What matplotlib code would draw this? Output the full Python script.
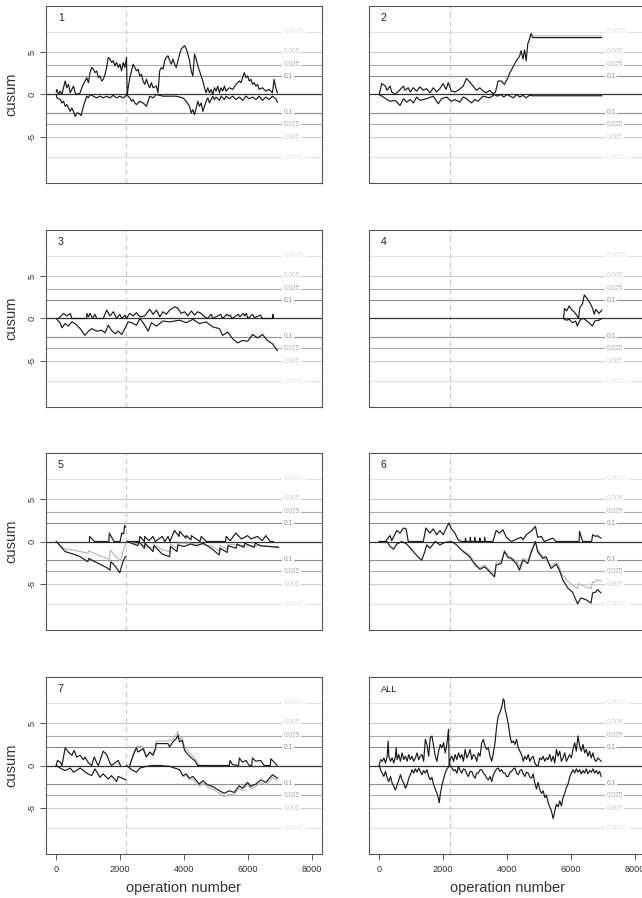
import matplotlib.pyplot as plt

plt.rcParams['font.family'] = ['Liberation Sans', 'DejaVu Sans']

# cusum traces, as (operation number, cusum) pairs
p1_up = [(0, 0.3), (21, 0.6), (73, 0), (125, 0.4), (177, 0), (229, 0.8), (280, 1.6), (332, 0.8),
         (384, 1.2), (436, 0.2), (488, 0.6), (540, 1.0), (592, 0.2), (644, 0), (748, 0.2),
         (800, 0.8), (851, 1.2), (903, 1.6), (955, 2.0), (1007, 1.4), (1059, 2.6), (1111, 3.2),
         (1163, 3.0), (1214, 2.6), (1266, 2.8), (1318, 2.0), (1370, 2.2), (1422, 1.6), (1474, 1.8),
         (1526, 2.4), (1578, 3.2), (1630, 4.4), (1682, 4.2), (1733, 3.8), (1785, 4.0), (1837, 3.4),
         (1889, 3.8), (1941, 3.2), (1993, 3.6), (2045, 2.8), (2097, 3.8), (2149, 3.2), (2200, 4.4),
         (2221, 0), (2253, 0.8), (2305, 2.0), (2357, 2.8), (2408, 3.6), (2460, 3.2), (2512, 2.8),
         (2564, 3.0), (2616, 2.2), (2668, 2.4), (2720, 1.6), (2772, 1.2), (2824, 1.8), (2876, 1.2),
         (2928, 0.8), (2980, 1.4), (3031, 0.8), (3135, 1.0), (3187, 0.2), (3239, 2.8), (3291, 3.2),
         (3343, 3.0), (3395, 4.0), (3447, 4.4), (3499, 4.6), (3551, 4.0), (3603, 3.6), (3654, 4.2),
         (3706, 3.6), (3758, 3.2), (3810, 4.0), (3862, 4.8), (3914, 5.4), (3966, 5.6), (4018, 5.8),
         (4070, 5.4), (4122, 4.8), (4174, 4.0), (4225, 2.8), (4277, 2.2), (4329, 4.8), (4381, 4.2),
         (4433, 3.4), (4485, 2.8), (4537, 2.2), (4589, 1.6), (4641, 0.8), (4693, 0.2), (4745, 0.8),
         (4797, 0.2), (4849, 0.6), (4900, 0), (4952, 0.8), (5004, 0.4), (5056, 1.0), (5108, 0.2),
         (5160, 0.8), (5212, 0.4), (5264, 1.0), (5316, 0.4), (5420, 0.8), (5524, 0.6), (5627, 1.2),
         (5731, 1.6), (5783, 1.4), (5835, 2.0), (5887, 2.6), (5939, 2.0), (5991, 2.2), (6042, 1.6),
         (6094, 1.8), (6146, 1.2), (6198, 1.4), (6250, 1.0), (6302, 1.2), (6354, 0.6), (6457, 0.8),
         (6561, 0.4), (6665, 0.6), (6768, 0.2), (6820, 1.8), (6872, 0.8), (6924, 0.2)]
p1_lo = [(0, 0), (21, -0.4), (125, -0.6), (177, -1.0), (229, -0.8), (280, -1.4), (332, -1.2),
         (384, -1.6), (436, -2.0), (488, -1.6), (540, -2.0), (592, -2.6), (644, -2.2), (700, -2.2),
         (780, -2.5), (850, -1.4), (903, -0.8), (955, -0.2), (1007, -0.4), (1059, 0), (1163, -0.2),
         (1266, -0.4), (1370, -0.2), (1474, -0.4), (1578, -0.2), (1682, -0.4), (1785, -0.1),
         (1889, -0.4), (1993, -0.2), (2097, -0.4), (2200, -0.1), (2253, -0.2), (2305, -0.4),
         (2357, -0.8), (2408, -0.6), (2460, -1.0), (2512, -1.2), (2616, -0.8), (2720, -1.0),
         (2824, -1.4), (2876, -0.8), (2928, -0.2), (3031, -0.4), (3135, 0), (3343, -0.2),
         (3758, -0.2), (3966, -0.4), (4070, -0.8), (4174, -1.4), (4225, -2.2), (4277, -1.8),
         (4329, -2.4), (4381, -1.6), (4433, -0.8), (4485, -1.4), (4537, -1.0), (4589, -2.0),
         (4641, -1.4), (4693, -0.8), (4745, -0.4), (4797, -1.0), (4900, -0.2), (4952, -0.6),
         (5004, -0.3), (5108, -0.7), (5160, -0.2), (5264, -0.6), (5316, -0.2), (5420, -0.5),
         (5524, -0.2), (5627, -0.6), (5731, -0.3), (5835, -0.7), (5939, -0.2), (6042, -0.5),
         (6146, -0.3), (6250, -0.6), (6354, -0.2), (6457, -0.7), (6561, -0.3), (6665, -0.6),
         (6768, -0.2), (6872, -0.5), (6924, -0.9)]

p2_up = [(0, 0), (80, 1.3), (190, 1.0), (240, 0.5), (340, 1.0), (390, 0.3), (500, 0), (760, 1.0),
         (810, 0.5), (910, 0.8), (970, 0.3), (1070, 0.8), (1170, 0.4), (1280, 0.9), (1380, 0.5),
         (1480, 0.7), (1590, 0.2), (1690, 0.8), (1800, 0.3), (1900, 0.7), (2000, 1.3), (2090, 0.6),
         (2160, 1.4), (2260, 0.4), (2370, 0.3), (2470, 0.5), (2630, 1.0), (2730, 1.9), (2830, 1.5),
         (2940, 1.0), (3040, 0.5), (3150, 0.8), (3250, 0.4), (3350, 0.2), (3460, 0.5), (3560, 0.1),
         (3640, 0.3), (3720, 1.6), (3820, 1.6), (3920, 1.2), (4030, 2.0), (4080, 2.5), (4180, 3.2),
         (4290, 4.0), (4390, 4.5), (4440, 5.2), (4500, 4.2), (4550, 5.3), (4600, 4.0), (4650, 6.0),
         (4700, 6.5), (4750, 7.2), (4810, 6.75), (6965, 6.75)]
p2_up_g = [(4700, 6.6), (4750, 7.3), (4810, 6.95), (6965, 6.95)]
p2_lo = [(0, 0), (130, -0.3), (240, -0.6), (340, -0.8), (500, -0.7), (650, -1.3), (760, -0.5),
         (860, -0.9), (970, -0.6), (1070, -1.0), (1170, -0.3), (1280, -0.7), (1480, -0.5),
         (1690, -0.2), (1850, -1.1), (1950, -0.5), (2110, -0.3), (2260, -0.8), (2370, -0.6),
         (2520, -0.9), (2630, -0.3), (2730, -0.5), (2890, -1.0), (2990, -0.6), (3090, -0.8),
         (3250, -0.2), (3460, -0.4), (3610, 0), (3700, -0.2), (3800, 0), (3900, -0.3), (4000, 0),
         (4100, -0.2), (4200, -0.4), (4300, 0), (4400, -0.3), (4500, -0.1), (4600, -0.4),
         (4700, -0.1), (4800, -0.15), (6965, -0.15)]

p3_up = [(70, 0), (230, 0.6), (330, 0.3), (440, 0.6), (490, 0), (950, 0), (960, 0.6), (1010, 0.2),
         (1060, 0.6), (1140, 0), (1210, 0.5), (1270, 0), (1470, 0), (1580, 1.0), (1680, 0.3),
         (1790, 0.8), (1890, 0), (1990, 0.5), (2050, 0), (2150, 0.4), (2200, 0), (2300, 0.6),
         (2410, 0.3), (2510, 0.7), (2620, 0.2), (2770, 0.3), (2930, 1.1), (3030, 0.5), (3140, 1.0),
         (3240, 0.2), (3340, 0.8), (3450, 0.5), (3550, 1.0), (3710, 1.4), (3810, 1.2), (3910, 0.6),
         (4020, 0.8), (4120, 0.3), (4230, 0.9), (4330, 0.4), (4430, 0.8), (4540, 0.6), (4640, 0.2),
         (4740, 0), (4850, 0.5), (4900, 0), (5150, 0.5), (5200, 0), (5350, 0.5), (5400, 0.3),
         (5450, 0.4), (5500, 0), (5700, 0.5), (5750, 0.2), (5850, 0.6), (5900, 0.3), (5950, 0.6),
         (6000, 0), (6150, 0.5), (6200, 0.1), (6400, 0.4), (6450, 0), (6770, 0), (6780, 0.5),
         (6800, 0)]
p3_lo = [(0, 0), (120, -0.5), (180, -1.1), (280, -0.6), (380, -0.9), (490, -0.4), (590, -0.6),
         (750, -1.2), (900, -2.0), (1010, -1.5), (1110, -1.2), (1270, -1.5), (1420, -1.4),
         (1530, -1.7), (1630, -0.8), (1730, -1.4), (1840, -1.8), (1940, -1.5), (2050, -1.9),
         (2150, -1.2), (2250, -0.4), (2360, -0.5), (2510, -0.8), (2620, 0), (2720, -0.5),
         (2880, -1.5), (2980, -0.5), (3140, -0.9), (3340, -0.3), (3550, -0.4), (3860, -0.2),
         (4070, -0.5), (4280, -0.1), (4480, -0.6), (4690, -0.4), (4900, -1.0), (5110, -1.2),
         (5210, -2.0), (5370, -1.6), (5520, -2.4), (5680, -2.9), (5830, -2.6), (5990, -2.7),
         (6150, -1.9), (6300, -2.3), (6460, -1.9), (6610, -2.6), (6770, -3.0), (6920, -3.8)]

p4_up = [(5770, 0), (5800, 1.2), (5870, 0.9), (5950, 1.5), (6030, 1.0), (6100, 0.8), (6180, 0.4),
         (6240, 0), (6280, 1.3), (6360, 1.7), (6420, 2.8), (6520, 2.3), (6590, 1.9), (6680, 1.2),
         (6730, 0.5), (6780, 1.1), (6880, 0.6), (6965, 1.0)]
p4_lo = [(5770, 0), (5850, -0.2), (5950, -0.1), (6050, -0.5), (6150, -0.3), (6200, -0.9),
         (6300, -0.1), (6400, 0), (6500, -0.3), (6600, -0.6), (6670, -0.9), (6750, -0.3),
         (6880, -0.2), (6965, 0)]

p5_up = [(1040, 0), (1045, 0.6), (1200, 0), (1650, 0), (1660, 1.0), (1810, 0), (2000, 0),
         (2050, 1.0), (2110, 0.9), (2140, 1.9), (2180, 1.7)]
p5_up2 = [(2220, 0), (2600, 0), (2620, 0.6), (2760, 0), (2770, 0.6), (2900, 0.1), (3030, 0.6),
          (3100, 0), (3320, 0.6), (3400, 0), (3500, 0.6), (3560, 0), (3700, 1.3), (3850, 0.6),
          (3860, 1.2), (4060, 0.4), (4070, 0.7), (4220, 0.2), (4230, 0.7), (4500, 0), (4540, 0.6),
          (4700, 0), (5300, 0), (5320, 0.6), (5450, 0.1), (5620, 1.0), (5800, 0.3), (5990, 0.7),
          (6100, 0.3), (6300, 0.6), (6450, 0.1), (6560, 0.7), (6700, 0), (6800, 0)]
p5_lo = [(0, 0), (120, -0.5), (280, -1.2), (540, -1.5), (750, -1.8), (990, -2.4), (1020, -2.0),
         (1160, -2.3), (1370, -2.7), (1580, -3.1), (1680, -3.4), (1710, -2.4), (1840, -2.9),
         (1990, -3.7), (2080, -2.5), (2160, -1.8), (2180, -1.8)]
p5_lo2 = [(2220, 0), (2560, -0.5), (2580, 0), (2760, -0.8), (2780, -0.2), (3030, -1.2),
          (3060, -0.5), (3320, -1.5), (3550, -1.8), (3580, -0.6), (3780, -1.2), (3810, -0.4),
          (4000, -0.6), (4200, -0.3), (4400, -0.5), (4600, -0.2), (4850, -0.8), (5100, -1.6),
          (5130, -0.8), (5350, -1.3), (5380, -0.5), (5630, -0.8), (5660, -0.3), (5870, -0.7),
          (5900, -0.2), (6200, -0.7), (6230, -0.2), (6400, -0.5), (6960, -0.7)]
p5_lo_g = [(0, 0), (120, -0.5), (280, -0.9), (540, -1.0), (990, -1.4), (1020, -1.1), (1370, -1.7),
           (1660, -2.1), (1700, -1.0), (1840, -1.7), (2010, -2.3), (2120, -0.8), (2180, -0.2)]
p5_lo2_g = [(2220, 0), (2560, -0.3), (2580, 0), (2760, -0.5), (3030, -0.8), (3060, -0.3),
            (3320, -1.0), (3550, -1.2), (3580, -0.3), (3780, -0.8), (3810, -0.2), (4200, -0.2),
            (4850, -0.5), (5100, -1.1), (5130, -0.5), (5350, -0.9), (5380, -0.3), (5870, -0.5),
            (6200, -0.5), (6960, -0.6)]

p6_up = [(0, 0), (190, 0), (340, 0.7), (390, 0.1), (550, 1.3), (650, 1.0), (760, 1.6), (840, 1.5),
         (910, 0), (1380, 0), (1460, 1.6), (1590, 1.0), (1690, 1.5), (1800, 0.8), (1900, 1.3),
         (2000, 0.8), (2180, 2.2), (2260, 1.5), (2370, 1.0), (2470, 0.2), (2570, 0), (2690, 0),
         (2700, 0.4), (2720, 0), (2840, 0), (2850, 0.5), (2870, 0), (2980, 0), (2990, 0.5),
         (3010, 0), (3140, 0), (3150, 0.4), (3170, 0), (3290, 0), (3300, 0.5), (3320, 0),
         (3560, 0), (3660, 1.3), (3770, 1.0), (3870, 1.4), (3980, 0.5), (4130, 0), (4440, 0.5),
         (4500, 0.2), (4600, 0.8), (4750, 1.2), (4890, 1.8), (4960, 0.5), (5070, 0.6), (5170, 0),
         (5430, 0.4), (5540, 0), (6260, 0), (6270, 1.2), (6370, 0), (6650, 0), (6680, 0.8),
         (6780, 0.6), (6830, 0.7), (6940, 0.4)]
p6_lo = [(0, 0), (240, 0), (340, -0.6), (450, -0.9), (550, -0.3), (710, 0), (860, -0.3),
         (1070, -1.2), (1230, -1.9), (1330, -2.2), (1400, -1.5), (1490, -0.4), (1590, -0.8),
         (1750, 0), (1900, -0.4), (2060, -0.1), (2260, 0), (2420, -0.4), (2630, -1.2), (2830, -1.8),
         (2990, -2.7), (3150, -3.3), (3300, -3.0), (3460, -3.6), (3610, -4.2), (3660, -2.8),
         (3820, -2.6), (3920, -1.2), (4030, -1.9), (4130, -2.0), (4290, -2.6), (4390, -3.4),
         (4500, -2.2), (4650, -2.6), (4750, -1.4), (4890, 0), (4960, -1.2), (5120, -2.0),
         (5220, -1.8), (5380, -3.2), (5540, -2.7), (5640, -3.4), (5740, -4.5), (5900, -5.5),
         (6050, -6.0), (6210, -7.4), (6310, -6.7), (6470, -6.9), (6630, -7.3), (6680, -6.1),
         (6780, -6.0), (6830, -5.7), (6940, -6.1)]
p6_lo_g = [(2630, -1.1), (2830, -1.6), (2990, -2.5), (3150, -3.1), (3300, -2.8), (3460, -3.4),
           (3610, -3.9), (3660, -2.5), (3820, -2.4), (3920, -1.0), (4030, -1.7), (4290, -2.3),
           (4390, -3.0), (4500, -2.0), (4650, -2.3), (4750, -1.1), (4890, 0), (4960, -1.0),
           (5120, -1.8), (5380, -2.9), (5540, -2.5), (5640, -3.1), (5740, -4.0), (5900, -4.7),
           (6050, -5.2), (6220, -5.6), (6230, -5.0), (6470, -5.4), (6630, -5.6), (6680, -4.8),
           (6780, -4.8), (6830, -4.5), (6940, -4.7)]

p7_up = [(0, 0), (40, 0.6), (120, 0.4), (180, 0), (280, 2.1), (380, 1.6), (490, 1.2), (560, 1.8),
         (640, 1.0), (750, 1.2), (850, 0.7), (900, 1.0), (1010, 0.3), (1110, 0), (1190, 1.0),
         (1270, 0.3), (1320, 0), (1470, 1.7), (1580, 1.3), (1680, 0.3), (1730, 0), (1940, 0.6),
         (2010, 0)]
p7_up2 = [(2300, 0), (2410, 1.2), (2510, 2.1), (2560, 1.6), (2720, 2.0), (2820, 1.0), (2930, 1.6),
          (3030, 1.2), (3110, 2.0), (3130, 2.6), (3500, 2.6), (3550, 2.2), (3650, 2.8), (3760, 3.2),
          (3810, 3.6), (3860, 2.8), (3940, 3.0), (4020, 1.8), (4120, 1.3), (4230, 0.9), (4330, 0.6),
          (4430, 0), (5420, 0), (5440, 0.6), (5520, 0.1), (5710, 0), (5730, 0.9), (5830, 0.4),
          (5940, 0.6), (6040, 0), (6120, 0), (6140, 0.9), (6250, 0.5), (6400, 0.6), (6510, 0),
          (6700, 0), (6720, 0.8), (6820, 0.4), (6920, 0)]
p7_up2_g = [(2300, 0), (2410, 1.4), (2510, 2.3), (2720, 2.2), (2820, 1.2), (3030, 1.5),
            (3110, 2.2), (3130, 2.9), (3500, 2.9), (3650, 3.1), (3810, 4.0), (3860, 3.2),
            (3940, 3.3), (4020, 2.2), (4120, 1.7), (4230, 1.3), (4330, 0.9), (4430, 0.3), (4500, 0)]
p7_lo = [(0, 0), (120, -0.3), (280, -0.6), (440, -0.3), (540, -0.8), (750, -0.3), (950, -0.9),
         (1110, -1.2), (1210, -0.4), (1370, -1.4), (1470, -1.0), (1630, -1.6), (1730, -1.2),
         (1890, -1.9), (1940, -1.3), (2180, -1.7)]
p7_lo2 = [(2200, 0), (2360, -0.5), (2510, -0.8), (2620, -0.3), (2820, -0.1), (3030, 0), (3240, 0),
          (3550, -0.1), (3860, -0.5), (3970, -1.2), (4070, -1.0), (4170, -1.5), (4280, -1.3),
          (4480, -2.2), (4590, -1.8), (4740, -2.3), (4900, -2.5), (5110, -3.0), (5260, -3.3),
          (5420, -3.0), (5570, -3.2), (5730, -2.4), (5830, -2.7), (5990, -2.0), (6090, -2.5),
          (6250, -2.2), (6400, -1.7), (6560, -2.0), (6770, -1.1), (6920, -1.5)]
p7_lo2_g = [(3860, -0.5), (3970, -1.3), (4070, -1.2), (4170, -1.7), (4280, -1.6), (4480, -2.5),
            (4590, -2.1), (4740, -2.6), (4900, -2.8), (5110, -3.3), (5260, -3.7), (5420, -3.4),
            (5570, -3.5), (5730, -2.7), (5830, -3.0), (5990, -2.3), (6090, -2.8), (6250, -2.5),
            (6400, -2.0), (6560, -2.3), (6770, -1.4), (6920, -1.8)]

all_up = [(0, 0), (42, 0.7), (93, 0.5), (145, 0.9), (197, 0.3), (249, 1.1), (280, 2.9), (301, 1.1),
          (353, 0.5), (405, 0.9), (457, 0.3), (509, 1.1), (530, 2.1), (561, 0.7), (613, 1.3),
          (665, 0.5), (716, 1.5), (768, 0.7), (820, 1.1), (872, 0.5), (924, 1.3), (976, 0.7),
          (1028, 1.1), (1080, 0.5), (1132, 0.9), (1184, 1.5), (1236, 0.7), (1288, 1.1), (1339, 1.3),
          (1391, 0.5), (1443, 3.1), (1495, 2.5), (1547, 1.1), (1599, 3.3), (1651, 3.5), (1703, 2.3),
          (1755, 1.1), (1807, 0.5), (1859, 1.7), (1911, 2.5), (1962, 2.1), (2014, 2.7), (2066, 1.5),
          (2118, 2.5), (2170, 4.3), (2190, 0), (2222, 0.7), (2274, 1.1), (2326, 0.5), (2378, 1.3),
          (2430, 0.7), (2482, 1.5), (2534, 0.9), (2585, 1.3), (2637, 0.5), (2689, 1.9), (2741, 0.9),
          (2793, 1.3), (2845, 1.9), (2897, 0.7), (2949, 1.3), (3001, 1.1), (3053, 0.5), (3105, 1.5),
          (3157, 1.1), (3209, 2.7), (3261, 3.1), (3313, 2.3), (3365, 1.9), (3417, 2.1), (3469, 1.1),
          (3521, 0.5), (3573, 1.5), (3625, 2.7), (3677, 4.7), (3728, 5.9), (3780, 6.3), (3832, 6.9),
          (3884, 7.9), (3915, 7.7), (3936, 6.7), (3988, 5.9), (4040, 4.9), (4092, 3.5), (4144, 2.7),
          (4196, 2.9), (4248, 2.5), (4300, 3.1), (4352, 2.1), (4404, 1.7), (4456, 1.3), (4508, 0.5),
          (4560, 1.1), (4612, 0.7), (4664, 1.3), (4716, 0.5), (4768, 0.9), (4820, 1.1), (4871, 0.3),
          (4923, 0), (4975, 0), (5027, 0.9), (5079, 0.7), (5131, 1.1), (5183, 0.5), (5235, 0.9),
          (5287, 0.7), (5339, 1.3), (5391, 0.5), (5443, 1.1), (5495, 0.3), (5547, 1.9), (5599, 1.1),
          (5651, 1.7), (5703, 0.5), (5755, 0.9), (5807, 1.5), (5859, 0.5), (5911, 0.9), (5962, 1.3),
          (6014, 0.9), (6066, 1.9), (6118, 2.7), (6170, 1.7), (6222, 3.5), (6274, 2.3), (6326, 1.7),
          (6378, 2.5), (6430, 1.5), (6482, 1.9), (6534, 1.1), (6586, 1.7), (6638, 0.9), (6690, 1.5),
          (6742, 0.7), (6794, 0.5), (6846, 0.9), (6898, 0.7), (6950, 0.5)]
all_lo = [(0, 0), (42, -0.5), (93, -0.9), (145, -1.3), (197, -0.7), (249, -1.5), (301, -1.9),
          (353, -1.3), (405, -2.1), (457, -2.5), (509, -2.9), (561, -2.3), (613, -1.7), (665, -1.1),
          (716, -1.7), (768, -2.1), (820, -2.7), (872, -2.3), (924, -1.5), (976, -1.1), (1028, -0.5),
          (1080, -0.9), (1132, -0.4), (1184, -0.8), (1236, -0.3), (1288, -0.7), (1339, -1.1),
          (1391, -0.6), (1443, -0.9), (1495, -0.5), (1547, -1.3), (1599, -1.7), (1651, -1.4),
          (1703, -2.3), (1755, -2.8), (1807, -3.3), (1859, -4.0), (1880, -4.4), (1911, -3.4),
          (1962, -2.4), (2014, -1.6), (2066, -0.9), (2118, -0.4), (2170, -0.2), (2222, 0),
          (2274, -0.3), (2326, -0.6), (2378, -0.5), (2430, -0.9), (2482, -0.1), (2534, -0.6),
          (2585, -0.9), (2637, -0.4), (2689, -0.5), (2741, -1.0), (2793, -1.3), (2845, -0.7),
          (2897, -0.7), (2949, -1.2), (3001, -1.5), (3053, -0.9), (3105, -0.9), (3157, -0.5),
          (3209, -0.5), (3261, -0.9), (3313, -1.1), (3365, -1.5), (3417, -1.7), (3469, -1.3),
          (3521, -1.9), (3573, -1.1), (3625, -0.7), (3677, -0.4), (3728, -0.3), (3780, -0.7),
          (3832, -0.5), (3884, -0.9), (3936, -0.9), (3988, -1.3), (4040, -1.3), (4092, -0.8),
          (4144, -0.7), (4196, -0.4), (4248, -0.3), (4300, -0.9), (4352, -1.1), (4404, -0.6),
          (4456, -0.5), (4508, -1.0), (4560, -1.3), (4612, -0.8), (4664, -0.9), (4716, -1.4),
          (4768, -1.5), (4820, -1.0), (4871, -2.1), (4923, -2.8), (4975, -2.0), (5027, -2.9),
          (5079, -3.3), (5131, -3.0), (5183, -3.8), (5235, -3.5), (5287, -4.4), (5339, -4.9),
          (5391, -5.4), (5443, -6.3), (5470, -5.9), (5495, -5.4), (5547, -4.6), (5599, -4.9),
          (5651, -4.2), (5703, -4.8), (5755, -3.8), (5807, -3.3), (5859, -2.6), (5911, -2.2),
          (5962, -1.4), (6014, -0.9), (6066, -0.5), (6118, -0.9), (6170, -0.4), (6222, -0.8),
          (6274, -0.5), (6326, -1.0), (6378, -0.6), (6430, -0.9), (6482, -0.4), (6534, -1.0),
          (6586, -0.6), (6638, -0.8), (6690, -0.4), (6742, -0.9), (6794, -0.6), (6846, -1.0),
          (6898, -0.7), (6950, -1.3)]

levels = [2.14, 3.52, 5.1, 7.44]
level_labels = ['0.1', '0.025', '0.005', '0.0005']
level_colors = ['#8e8e8e', '#acacac', '#cacaca', '#e2e2e2']
xticks = [0, 2000, 4000, 6000, 8000]
yticks = [-5, 0, 5]
change_point = 2200

panels = [
    ('1', [p1_up, p1_lo], []),
    ('2', [p2_up, p2_lo], [p2_up_g]),
    ('3', [p3_up, p3_lo], []),
    ('4', [p4_up, p4_lo], []),
    ('5', [p5_up, p5_up2, p5_lo, p5_lo2], [p5_lo_g, p5_lo2_g]),
    ('6', [p6_up, p6_lo], [p6_lo_g]),
    ('7', [p7_up, p7_up2, p7_lo, p7_lo2], [p7_up2_g, p7_lo2_g]),
    ('ALL', [all_up, all_lo], []),
]

W, H = 642, 898
fig = plt.figure(figsize=(W / 100, H / 100), dpi=100)
col_left = [46, 369]
row_top = [6, 230, 453, 677]
pw, ph = 276, 177

for i, (name, black, grey) in enumerate(panels):
    row, col = divmod(i, 2)
    ax = fig.add_axes([col_left[col] / W, 1 - (row_top[row] + ph) / H, pw / W, ph / H])
    ax.set_xlim(-320, 8320)
    ax.set_ylim(-10.5, 10.5)

    for lev, lab, c in zip(levels, level_labels, level_colors):
        for s in (1, -1):
            ax.axhline(s * lev, color=c, lw=0.8, zorder=1)
            ax.text(7110, s * lev, lab, color=c, fontsize=4.7, ha='left', va='center', zorder=2,
                    bbox=dict(facecolor='white', edgecolor='none', pad=1.0))
    ax.axvline(change_point, color='#c8c8c8', lw=0.9, ls=(0, (4, 3)), zorder=2)
    ax.axhline(0, color='#333333', lw=0.9, zorder=3)

    for tr in grey:
        xs, ys = zip(*tr)
        ax.plot(xs, ys, color='#b4b4b4', lw=0.8, zorder=4)
    for tr in black:
        xs, ys = zip(*tr)
        ax.plot(xs, ys, color='#1a1a1a', lw=0.85, zorder=5)

    ax.text(0.043, 0.932, name, transform=ax.transAxes, ha='left', va='center',
            fontsize=6.7 if name == 'ALL' else 7.7, color='#222222')

    for sp in ax.spines.values():
        sp.set_color('#555555')
        sp.set_linewidth(0.8)
    ax.tick_params(length=4, width=0.7, color='#555555', labelcolor='#333333', labelsize=6.6)

    if col == 0:
        ax.set_yticks(yticks)
        ax.set_yticklabels([str(t) for t in yticks], rotation=90, va='center')
        ax.tick_params(axis='y', pad=3)
        ax.set_ylabel('cusum', fontsize=10.5, color='#333333')
        ax.yaxis.set_label_coords(-0.1, 0.5)
    else:
        ax.set_yticks([])

    if row == 3:
        ax.set_xticks(xticks)
        ax.tick_params(axis='x', pad=4)
        ax.set_xlabel('operation number', fontsize=10.5, color='#333333')
        ax.xaxis.set_label_coords(0.5, -0.155)
    else:
        ax.set_xticks([])

fig.savefig('out.png', dpi=100)
